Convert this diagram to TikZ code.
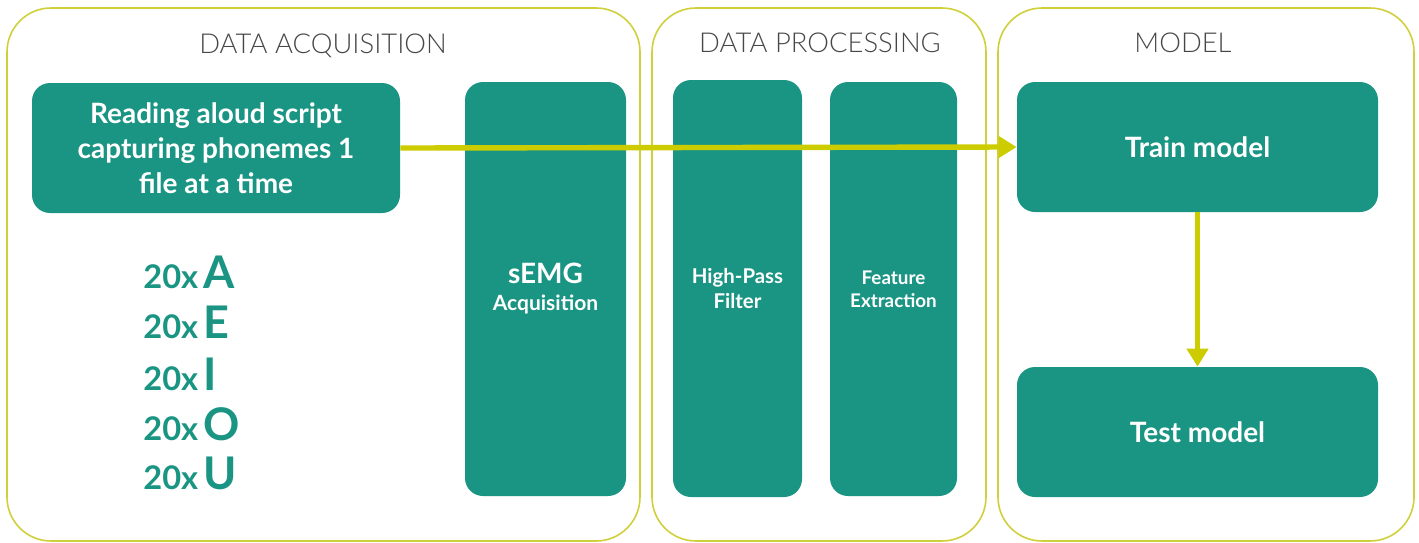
\documentclass[tikz,border=0pt]{standalone}
\usepackage{fontspec}
\setmainfont{Lato}
\newfontfamily\headfont{Lato Light}
\usepackage[RGB]{xcolor}
\usetikzlibrary{arrows.meta}
\definecolor{teal}{RGB}{27,149,131}
\definecolor{lime}{RGB}{204,204,0}
\definecolor{rim}{RGB}{208,208,60}
\tikzset{
  panel/.style={draw=rim, line width=0.8pt, rounded corners=22pt},
  stage/.style={fill=teal, rounded corners=9pt, text=white, align=center,
    font=\bfseries},
  heading/.style={font=\headfont\fontsize{13.7}{16}\selectfont, text=black!72},
  flow/.style={draw=lime, line width=2.7pt, -{Triangle[width=10.5pt,length=9pt]}},
}
\newcommand{\vowel}[2]{\node[anchor=west, inner sep=0pt, text=teal, font=\bfseries] (v#1) at (143,#2)
  {\fontsize{16.3}{20}\selectfont 20x\,\fontsize{22.5}{24}\selectfont #1};}

\begin{document}
\begin{tikzpicture}[x=0.5pt, y=-0.5pt]
\useasboundingbox (0,0) rectangle (1419,542);
\node[panel, minimum width=316.5pt, minimum height=266.5pt] (acq) at (323.5,274.5) {};
    \node[panel, minimum width=167pt, minimum height=266.5pt] (proc) at (819,274.5) {};
    \node[panel, minimum width=208pt, minimum height=266.5pt] (mdl) at (1206,274.5) {};
    \node[heading] (hacq) at (323,46) {DATA ACQUISITION};
    \node[heading] (hproc) at (820,43) {DATA PROCESSING};
    \node[heading] (hmdl) at (1183,43) {MODEL};
    \node[stage, minimum width=184pt, minimum height=65pt,
      font=\bfseries\fontsize{14}{17.5}\selectfont] (read) at (216,148)
      {Reading aloud script\\capturing phonemes 1\\file at a time};
    \node[stage, minimum width=80.5pt, minimum height=207pt] (semg) at (545.5,289)
      {\fontsize{14}{14}\selectfont sEMG\\[1.5pt]\fontsize{10.5}{12}\selectfont Acquisition};
    \node[stage, minimum width=64.5pt, minimum height=208.5pt,
      font=\bfseries\fontsize{10.2}{12.5}\selectfont] (hpf) at (737.5,288.5) {High-Pass\\Filter};
    \node[stage, minimum width=63.5pt, minimum height=207pt,
      font=\bfseries\fontsize{9.4}{11.5}\selectfont] (feat) at (893.5,289) {Feature\\Extraction};
    \node[stage, minimum width=180.5pt, minimum height=65pt,
      font=\bfseries\fontsize{14}{17}\selectfont] (train) at (1197.5,147) {Train model};
    \node[stage, minimum width=180.5pt, minimum height=65pt,
      font=\bfseries\fontsize{14}{17}\selectfont] (test) at (1197.5,432) {Test model};
\vowel{A}{272}\vowel{E}{322}\vowel{I}{374}\vowel{O}{424}\vowel{U}{473}
\draw[flow] (read.east) -- (train.west);
    \draw[flow] (train.south) -- (test.north);
\end{tikzpicture}
\end{document}
